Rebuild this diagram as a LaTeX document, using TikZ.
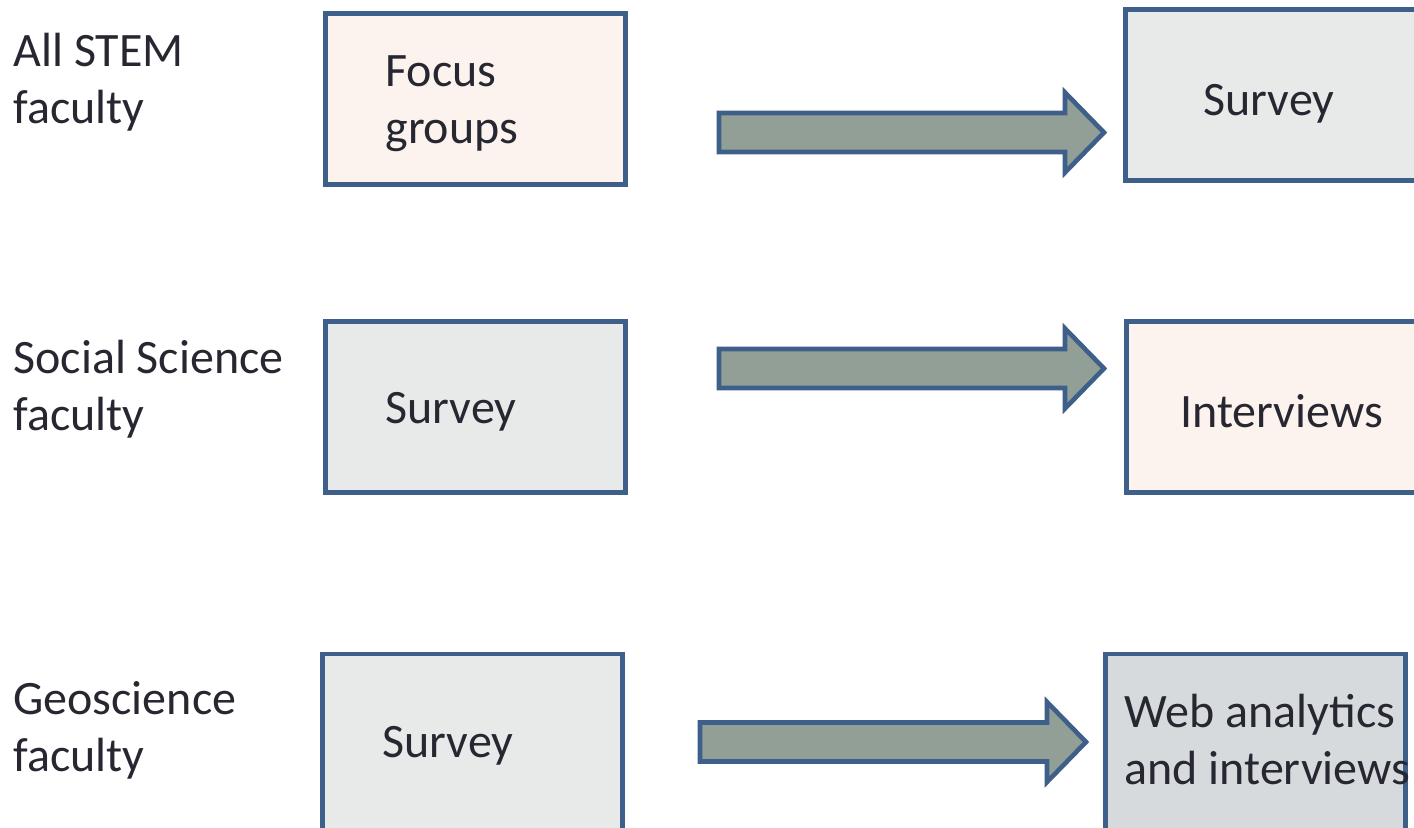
\documentclass[tikz,border=0pt]{standalone}
\usepackage{fontspec}
\setmainfont{Carlito}
\usetikzlibrary{calc, positioning}

\definecolor{edgeblue}{HTML}{3E5F8A}
\definecolor{peach}{HTML}{FDF3EE}
\definecolor{lightgray}{HTML}{E8E9E9}
\definecolor{midgray}{HTML}{D7DADD}
\definecolor{arrowfill}{HTML}{919F96}
\definecolor{inktext}{HTML}{262731}

% block arrow from tail point #1 to tip #2
\newcommand{\flowarrow}[2]{%
  \draw[flow] ($(#1)+(0,-19.5)$) -- ($(#2)+(-39,-19.5)$) -- ($(#2)+(-39,-40)$)
    -- (#2) -- ($(#2)+(-39,40)$) -- ($(#2)+(-39,19.5)$) -- ($(#1)+(0,19.5)$) -- cycle;}

\begin{document}
\begin{tikzpicture}[
    x=0.5pt, y=-0.5pt,
    every node/.style={font=\fontsize{24}{28.5}\selectfont, text=inktext},
    box/.style={rectangle, draw=edgeblue, line width=2.3pt, minimum width=150pt, minimum height=85.5pt},
    txt/.style={anchor=west, align=left, inner sep=0pt},
    flow/.style={draw=edgeblue, line width=2.3pt, fill=arrowfill, line join=miter}]
    \useasboundingbox (0,0) rectangle (1414,828);
    \clip (0,0) rectangle (1414,828);

    % Row labels
    \node[txt] (stem) at (13,82) {All STEM\\faculty};
    \node[txt] (social) at (13,389) {Social Science\\faculty};
    \node[txt] (geo) at (13,730) {Geoscience\\faculty};

    % Boxes
    \node[box, fill=peach] (focus) at (475.5,99) {};
    \node[box, fill=lightgray] (survA) at (1275.5,95) {};
    \node[box, fill=lightgray] (survB) at (475.5,407) {};
    \node[box, fill=peach] (interv) at (1276.5,407) {};
    \node[box, fill=lightgray, minimum height=94pt] (survC) at (472.5,748) {};
    \node[box, fill=midgray, minimum height=94pt] (web) at (1255.5,748) {};

    % Box texts
    \node[txt] (focust) at (385,104) {Focus\\groups};
    \node[txt] (survAt) at (1203,104) {Survey};
    \node[txt] (survBt) at (385,412) {Survey};
    \node[txt] (intervt) at (1180,411) {Interviews};
    \node[txt] (survCt) at (382,746) {Survey};
    \node[txt] (webt) at (1124,740) {Web analytics\\and interviews};

    % Arrows
    \coordinate (a1s) at (719,132.5);
    \coordinate (a1e) at (1104,132.5);
    \coordinate (a2s) at (719,368.5);
    \coordinate (a2e) at (1104,368.5);
    \coordinate (a3s) at (700,742);
    \coordinate (a3e) at (1086,742);
    \flowarrow{a1s}{a1e}
    \flowarrow{a2s}{a2e}
    \flowarrow{a3s}{a3e}
\end{tikzpicture}
\end{document}
